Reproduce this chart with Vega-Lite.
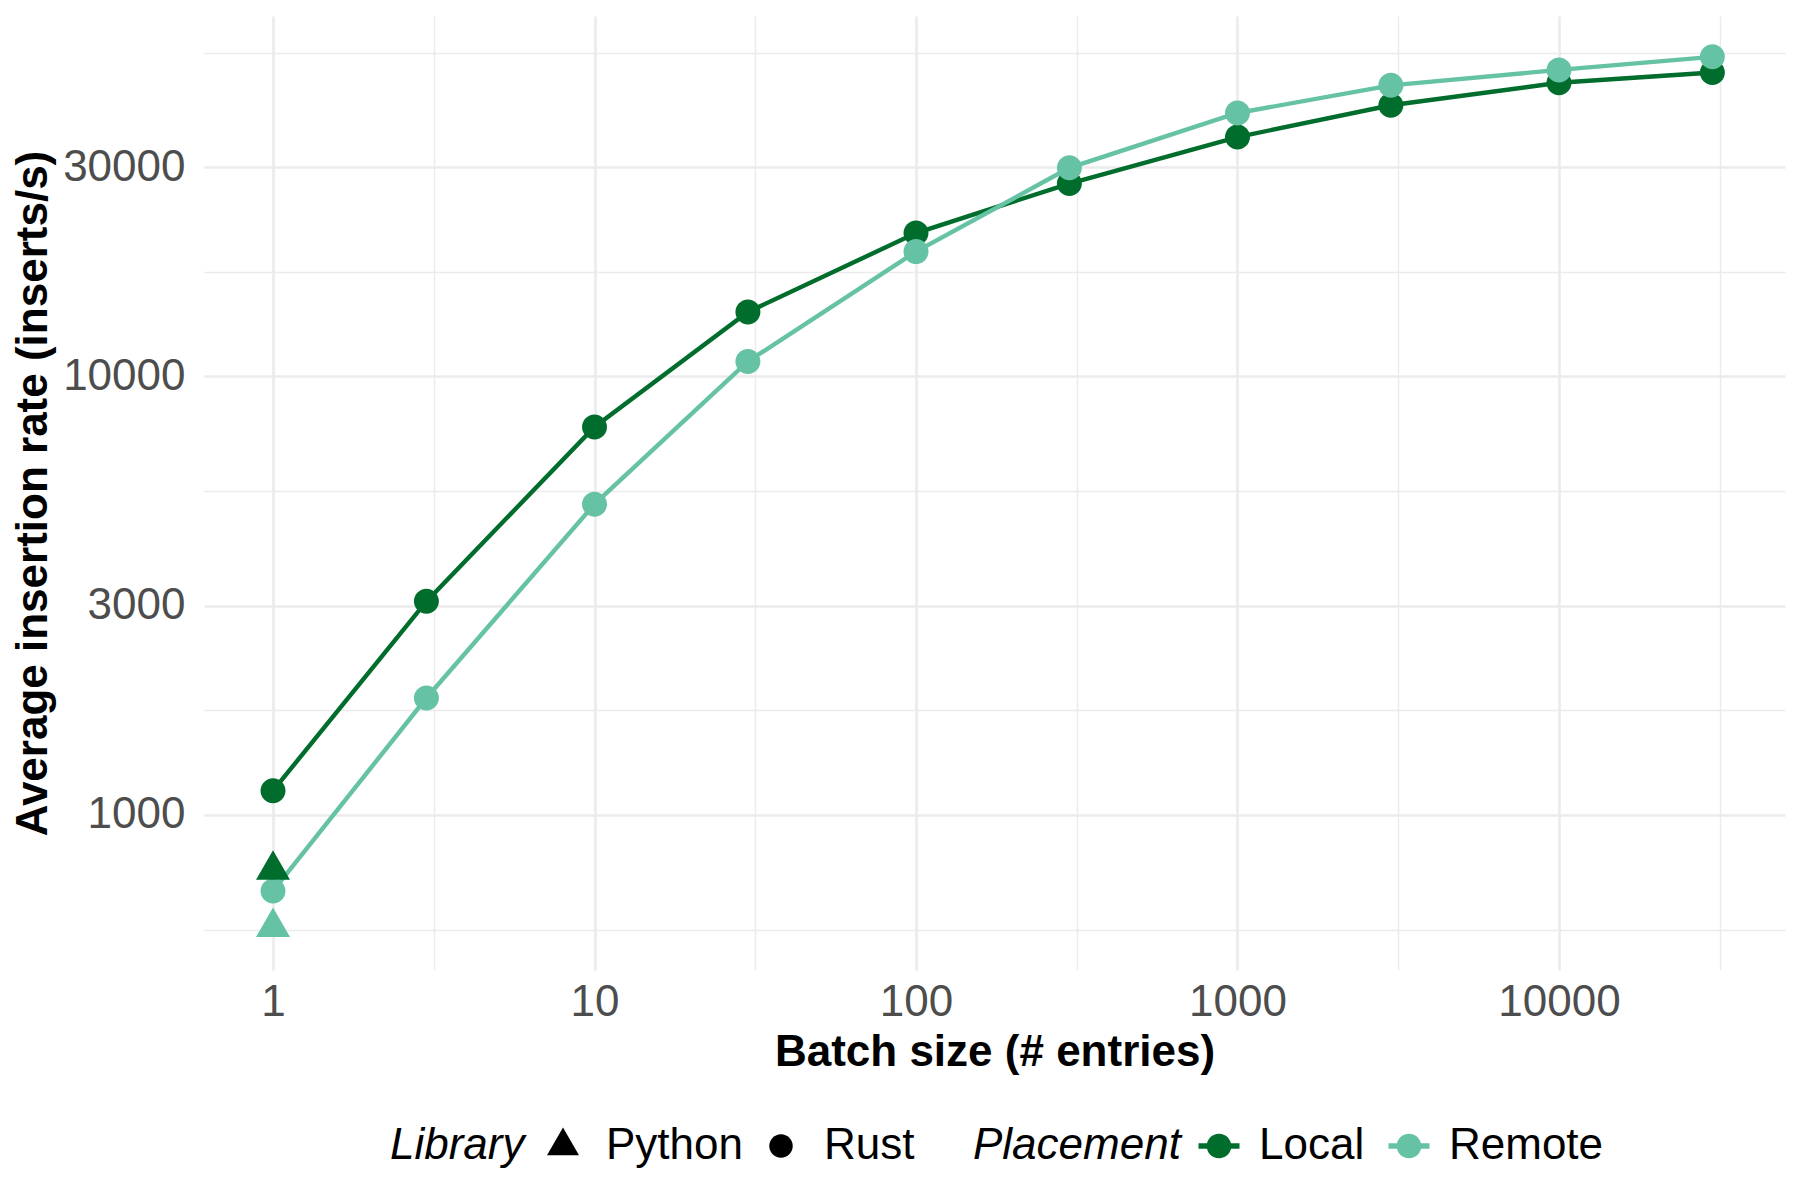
{
  "$schema": "https://vega.github.io/schema/vega-lite/v6.json",
  "width": 1581,
  "height": 954,
  "autosize": {"type": "none"},
  "padding": {"left": 204, "top": 16, "right": 15, "bottom": 230},
  "background": "white",
  "config": {"view": {"stroke": null}, "font": "Liberation Sans"},
  "data": {
    "values": [
      {"Batch": 1, "Rate": 1136, "Placement": "Local", "Library": "Rust"},
      {"Batch": 3, "Rate": 3070, "Placement": "Local", "Library": "Rust"},
      {"Batch": 10, "Rate": 7670, "Placement": "Local", "Library": "Rust"},
      {"Batch": 30, "Rate": 14030, "Placement": "Local", "Library": "Rust"},
      {"Batch": 100, "Rate": 21240, "Placement": "Local", "Library": "Rust"},
      {"Batch": 300, "Rate": 27540, "Placement": "Local", "Library": "Rust"},
      {"Batch": 1000, "Rate": 35170, "Placement": "Local", "Library": "Rust"},
      {"Batch": 3000, "Rate": 41550, "Placement": "Local", "Library": "Rust"},
      {"Batch": 10000, "Rate": 46760, "Placement": "Local", "Library": "Rust"},
      {"Batch": 30000, "Rate": 49340, "Placement": "Local", "Library": "Rust"},
      {"Batch": 1, "Rate": 671, "Placement": "Remote", "Library": "Rust"},
      {"Batch": 3, "Rate": 1848, "Placement": "Remote", "Library": "Rust"},
      {"Batch": 10, "Rate": 5115, "Placement": "Remote", "Library": "Rust"},
      {"Batch": 30, "Rate": 10820, "Placement": "Remote", "Library": "Rust"},
      {"Batch": 100, "Rate": 19270, "Placement": "Remote", "Library": "Rust"},
      {"Batch": 300, "Rate": 29910, "Placement": "Remote", "Library": "Rust"},
      {"Batch": 1000, "Rate": 39900, "Placement": "Remote", "Library": "Rust"},
      {"Batch": 3000, "Rate": 46140, "Placement": "Remote", "Library": "Rust"},
      {"Batch": 10000, "Rate": 50030, "Placement": "Remote", "Library": "Rust"},
      {"Batch": 30000, "Rate": 53580, "Placement": "Remote", "Library": "Rust"},
      {"Batch": 1, "Rate": 749, "Placement": "Local", "Library": "Python"},
      {"Batch": 1, "Rate": 555, "Placement": "Remote", "Library": "Python"}
    ]
  },
  "encoding": {
    "x": {
      "field": "Batch",
      "type": "quantitative",
      "scale": {"type": "log", "domain": [0.61, 50470], "nice": false, "zero": false},
      "axis": {
        "title": "Batch size (# entries)",
        "titleFont": "Liberation Sans",
        "titleFontSize": 44,
        "titleFontWeight": "bold",
        "titleColor": "#000000",
        "titlePadding": 6,
        "labelFont": "Liberation Sans",
        "labelFontSize": 44,
        "labelColor": "#4D4D4D",
        "labelPadding": 10,
        "labelOverlap": false,
        "labelFlush": false,
        "labelBound": false,
        "values": [1, 3.16228, 10, 31.6228, 100, 316.228, 1000, 3162.28, 10000, 31622.8],
        "labelExpr": "indexof([1, 10, 100, 1000, 10000], datum.value) >= 0 ? format(datum.value, 'd') : ''",
        "ticks": false,
        "domain": false,
        "grid": true,
        "gridColor": "#EBEBEB",
        "gridWidth": {"condition": {"test": "indexof([1, 10, 100, 1000, 10000], datum.value) >= 0", "value": 2.6}, "value": 1.4}
      }
    },
    "y": {
      "field": "Rate",
      "type": "quantitative",
      "scale": {"type": "log", "domain": [443, 66400], "nice": false, "zero": false},
      "axis": {
        "title": "Average insertion rate (inserts/s)",
        "titleFont": "Liberation Sans",
        "titleFontSize": 44,
        "titleFontWeight": "bold",
        "titleColor": "#000000",
        "titlePadding": 7,
        "labelFont": "Liberation Sans",
        "labelFontSize": 44,
        "labelColor": "#4D4D4D",
        "labelPadding": 19,
        "labelOverlap": false,
        "labelFlush": false,
        "labelBound": false,
        "values": [547.72, 1000, 1732.05, 3000, 5477.23, 10000, 17320.5, 30000, 54772.3],
        "labelExpr": "indexof([1000, 3000, 10000, 30000], datum.value) >= 0 ? format(datum.value, 'd') : ''",
        "ticks": false,
        "domain": false,
        "grid": true,
        "gridColor": "#EBEBEB",
        "gridWidth": {"condition": {"test": "indexof([1000, 3000, 10000, 30000], datum.value) >= 0", "value": 2.6}, "value": 1.4}
      }
    },
    "color": {
      "field": "Placement",
      "type": "nominal",
      "scale": {"domain": ["Local", "Remote"], "range": ["#006D2C", "#66C2A4"]},
      "legend": {
        "title": "Placement",
        "orient": "none",
        "legendX": 769,
        "legendY": 1108,
        "direction": "horizontal",
        "titleOrient": "left",
        "titleLimit": 400,
        "titleFont": "Liberation Sans",
        "titleFontSize": 44,
        "titleFontStyle": "italic",
        "titleFontWeight": "normal",
        "titleColor": "#000000",
        "titlePadding": 16,
        "labelFont": "Liberation Sans",
        "labelFontSize": 44,
        "labelColor": "#000000",
        "labelOffset": 18,
        "columnPadding": 22,
        "symbolSize": 1681,
        "symbolStrokeWidth": 0,
        "symbolType": "M-0.6,0A0.6,0.6 0 1,1 0.6,0A0.6,0.6 0 1,1 -0.6,0Z M-1,-0.13L1,-0.13L1,0.13L-1,0.13Z"
      }
    }
  },
  "layer": [
    {
      "transform": [{"filter": "datum.Library == 'Rust'"}],
      "mark": {"type": "line", "strokeWidth": 4.4}
    },
    {
      "mark": {"type": "point", "filled": true, "opacity": 1, "size": 1156, "strokeWidth": 0},
      "encoding": {
        "shape": {
          "field": "Library",
          "type": "nominal",
          "scale": {
            "domain": ["Python", "Rust"],
            "range": ["M0,-1.1547L1,0.5774L-1,0.5774Z", "M-0.735,0A0.735,0.735 0 1,1 0.735,0A0.735,0.735 0 1,1 -0.735,0Z"]
          },
          "legend": {
            "title": "Library",
            "orient": "none",
            "legendX": 186,
            "legendY": 1108,
            "direction": "horizontal",
            "titleOrient": "left",
            "titleLimit": 400,
            "titleFont": "Liberation Sans",
            "titleFontSize": 44,
            "titleFontStyle": "italic",
            "titleFontWeight": "normal",
            "titleColor": "#000000",
            "titlePadding": 16,
            "labelFont": "Liberation Sans",
            "labelFontSize": 44,
            "labelColor": "#000000",
            "labelOffset": 21,
            "columnPadding": 16,
            "symbolSize": 1024,
            "symbolFillColor": "#000000",
            "symbolStrokeWidth": 0
          }
        }
      }
    }
  ]
}
